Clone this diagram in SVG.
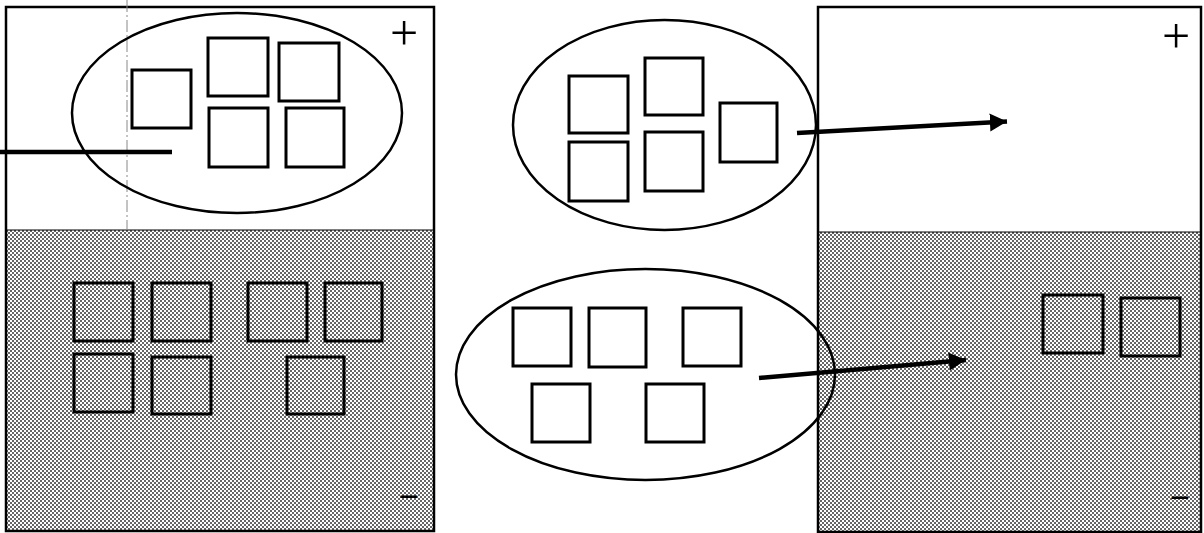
<svg xmlns="http://www.w3.org/2000/svg" width="1204" height="533" viewBox="0 0 1204 533">
<style>
.panel{fill:none;stroke:#000;stroke-width:2.5}
.white{fill:#fff}
.gray{fill:url(#dither)}
.sq{fill:none;stroke:#000;stroke-width:3}
.ell{fill:none;stroke:#000;stroke-width:2.5}
.conn{stroke:#000;stroke-width:4.5;fill:none}
.plus{font-family:"Liberation Serif","Times New Roman",serif;fill:#000;text-anchor:middle}
.minus{font-family:"Liberation Sans",Arial,sans-serif;fill:#000;text-anchor:middle}
</style>
<defs>
<pattern id="dither" width="4" height="4" patternUnits="userSpaceOnUse">
<rect width="4" height="4" fill="#fff"/>
<rect x="0" y="0" width="2" height="2" fill="#666"/>
<rect x="2" y="2" width="2" height="2" fill="#666"/>
</pattern>
<marker id="arrow" markerWidth="6" markerHeight="6" refX="3.8" refY="3" orient="auto" markerUnits="strokeWidth">
<path d="M0,1 L3.8,3 L0,5 Z" fill="#000"/>
</marker>
</defs>
<rect width="1204" height="533" fill="#fff"/>

<g id="left-panel">
<rect class="white" x="6" y="7" width="428" height="223"/>
<rect class="gray" x="6" y="230" width="428" height="301"/>
<line x1="6" y1="230" x2="434" y2="230" stroke="#000" stroke-width="1"/>
<rect class="panel" x="6" y="7" width="428" height="524"/>
<line x1="127" y1="0" x2="127" y2="230" stroke="#888" stroke-width="1" stroke-dasharray="12 3 2 3"/>
<text class="plus" x="404" y="50" font-size="50">+</text>
<text class="minus" x="409" y="508" font-size="34">−</text>
</g>

<g id="right-panel">
<rect class="white" x="818" y="7" width="383" height="225"/>
<rect class="gray" x="818" y="232" width="383" height="300"/>
<line x1="818" y1="232" x2="1201" y2="232" stroke="#000" stroke-width="1"/>
<rect class="panel" x="818" y="7" width="383" height="525"/>
<text class="plus" x="1176" y="53" font-size="50">+</text>
<text class="minus" x="1180" y="509" font-size="34">−</text>
</g>

<g id="left-top-group">
<ellipse class="ell" cx="237" cy="113" rx="165" ry="100"/>
<rect class="sq" x="132" y="70" width="59" height="58"/>
<rect class="sq" x="208" y="38" width="60" height="58"/>
<rect class="sq" x="279" y="43" width="60" height="58"/>
<rect class="sq" x="209" y="108" width="59" height="59"/>
<rect class="sq" x="286" y="108" width="58" height="59"/>
</g>

<g id="left-bottom-group">
<rect class="sq" x="74" y="283" width="59" height="58"/>
<rect class="sq" x="152" y="283" width="59" height="58"/>
<rect class="sq" x="248" y="283" width="59" height="58"/>
<rect class="sq" x="325" y="283" width="57" height="58"/>
<rect class="sq" x="74" y="354" width="59" height="58"/>
<rect class="sq" x="152" y="357" width="59" height="57"/>
<rect class="sq" x="287" y="357" width="57" height="57"/>
</g>

<g id="middle-top-group">
<ellipse class="ell" cx="664.5" cy="125" rx="151.5" ry="105"/>
<rect class="sq" x="569" y="76" width="59" height="57"/>
<rect class="sq" x="645" y="58" width="58" height="57"/>
<rect class="sq" x="720" y="103" width="57" height="59"/>
<rect class="sq" x="569" y="142" width="59" height="59"/>
<rect class="sq" x="645" y="132" width="58" height="59"/>
</g>

<g id="middle-bottom-group">
<ellipse class="ell" cx="645.5" cy="374.5" rx="189.5" ry="105.5"/>
<rect class="sq" x="513" y="308" width="58" height="58"/>
<rect class="sq" x="589" y="308" width="57" height="59"/>
<rect class="sq" x="683" y="308" width="58" height="58"/>
<rect class="sq" x="532" y="384" width="58" height="58"/>
<rect class="sq" x="646" y="384" width="58" height="58"/>
</g>

<g id="right-bottom-group">
<rect class="sq" x="1043" y="295" width="60" height="58"/>
<rect class="sq" x="1121" y="298" width="59" height="58"/>
</g>

<g id="connectors">
<line class="conn" x1="0" y1="152" x2="172" y2="152"/>
<line class="conn" x1="797" y1="133" x2="1007" y2="121.5" marker-end="url(#arrow)"/>
<line class="conn" x1="759" y1="378" x2="966" y2="360" marker-end="url(#arrow)"/>
</g>
</svg>
